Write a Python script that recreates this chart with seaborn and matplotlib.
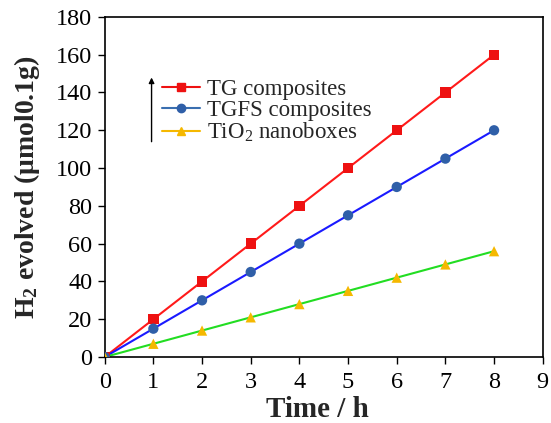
import matplotlib
matplotlib.use("Agg")
import matplotlib.pyplot as plt
import seaborn as sns
import pandas as pd
from matplotlib.lines import Line2D

time_h = [0, 1, 2, 3, 4, 5, 6, 7, 8]
tg = [0, 20, 40, 60, 80, 100, 120, 140, 160]
tgfs = [0, 15, 30, 45, 60, 75, 90, 105, 120]
tio2 = [0, 7, 14, 21, 28, 35, 42, 49, 56]
series_names = ["TG composites", "TGFS composites", "TiO$_2$ nanoboxes"]
x_ticks = list(range(0, 10))
y_ticks = list(range(0, 181, 20))

sns.set_style("ticks")
plt.rcParams['font.family'] = ['Liberation Serif', 'DejaVu Serif']
plt.rcParams['mathtext.fontset'] = 'custom'
plt.rcParams['mathtext.rm'] = 'Liberation Serif'
plt.rcParams['mathtext.bf'] = 'Liberation Serif:bold'
plt.rcParams['mathtext.it'] = 'Liberation Serif:italic'

fig = plt.figure(figsize=(5.51, 4.23), dpi=100)
ax = fig.add_axes([0.19, 0.156, 0.795, 0.804])

df = pd.DataFrame({"t": time_h, "TG": tg, "TGFS": tgfs, "TiO2": tio2})

line_colors = ["#ff1a1a", "#1a1aff", "#22dd22"]
marker_colors = ["#ee1111", "#2f5fa8", "#f5b800"]
markers = ["s", "o", "^"]
cols = ["TG", "TGFS", "TiO2"]

for col, lc, mc, mk in zip(cols, line_colors, marker_colors, markers):
    sns.lineplot(data=df, x="t", y=col, color=lc, lw=1.5, ax=ax, zorder=2)
    sns.scatterplot(data=df, x="t", y=col, color=mc, marker=mk, s=55,
                    edgecolor="none", ax=ax, zorder=3)

ax.set_xlim(0, 9)
ax.set_ylim(0, 180)
ax.set_xticks(x_ticks)
ax.set_yticks(y_ticks)
ax.tick_params(labelsize=17.5, direction="out", length=5, width=1, colors="black")
ax.tick_params(axis="x", pad=6)
ax.tick_params(axis="y", pad=4)
for s in ax.spines.values():
    s.set_visible(True)
    s.set_linewidth(1.2)
    s.set_color("black")

ax.set_xlabel("Time / h", fontsize=21, fontweight="bold", labelpad=0)
ax.xaxis.set_label_coords(0.485, -0.115)
ax.set_ylabel("H$_\\mathbf{2}$ evolved (μmol0.1g)", fontsize=20, fontweight="bold")
ax.yaxis.set_label_coords(-0.142, 0.5)

legend_line_colors = ["#ee1111", "#3a6fb0", "#f5b800"]
handles = [Line2D([0], [0], color=lc, marker=mk, markerfacecolor=mc, markeredgecolor=mc,
                  markersize=6, lw=1.5)
           for lc, mc, mk in zip(legend_line_colors, marker_colors, markers)]
leg = ax.legend(handles, series_names, loc="upper left", bbox_to_anchor=(0.11, 0.845),
                frameon=False, fontsize=16.5, handlelength=1.65, handletextpad=0.3,
                labelspacing=0.0, borderaxespad=0)

ax.annotate("", xy=(0.107, 0.83), xytext=(0.107, 0.625), xycoords="axes fraction",
            arrowprops=dict(arrowstyle="-|>", color="black", lw=1, mutation_scale=8))

fig.savefig("out.png", dpi=100)
